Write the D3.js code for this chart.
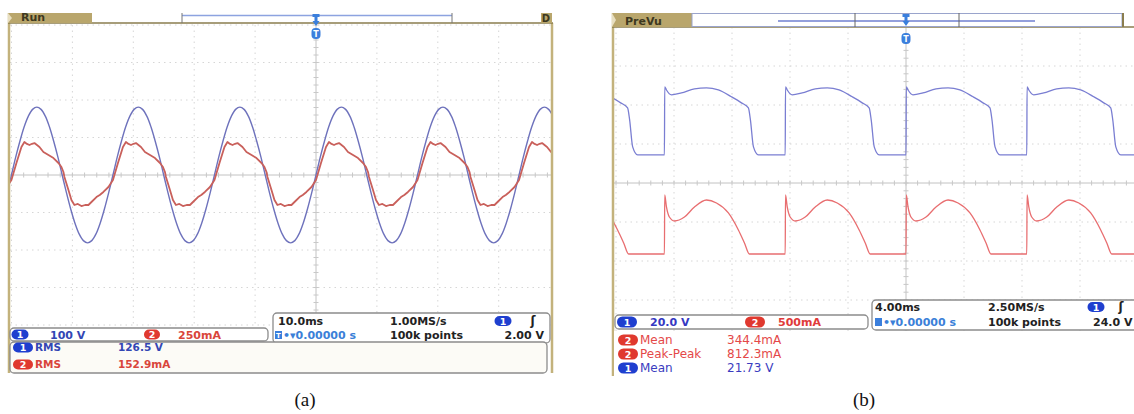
<!DOCTYPE html>
<html>
<head>
<meta charset="utf-8">
<script src="https://cdn.jsdelivr.net/npm/d3@7"></script>
<style>
  body { margin: 0; background: #fff; }
  svg { display: block; }
</style>
</head>
<body>
<script>
// ---- panel (a): 10 ms/div, ch1 100 V/div, ch2 250 mA/div, one mains cycle
const periodA = 16.67;               // ms
const ch1A_t = [0, 0.69, 1.39, 2.08, 2.78, 3.47, 4.17, 4.86, 5.56, 6.25, 6.94, 7.64,
                8.33, 9.03, 9.72, 10.42, 11.11, 11.81, 12.5, 13.19, 13.89, 14.58, 15.28, 15.97];
const ch1A_v = [0, 47, 90, 128, 157, 175, 181, 175, 157, 128, 90, 47,
                0, -47, -90, -128, -157, -175, -181, -175, -157, -128, -90, -47];   // V
const ch2A_t = [0, 0.82, 1.64, 2.13, 2.55, 2.96, 3.38, 3.78, 4.6, 5.25, 6.08, 6.9, 7.72,
                8.21, 8.54, 8.7, 9.36, 9.85, 10.34, 10.9, 11.49, 12.1, 12.64, 13.14, 13.96, 14.5, 15.1, 15.93];
const ch2A_v = [-33, 80, 187, 220, 207, 200, 208, 213, 187, 153, 133, 113, 80,
                53, 20, -13, -100, -167, -200, -193, -207, -200, -200, -180, -147, -133, -113, -80];  // mA

// ---- panel (b): 4 ms/div, ch1 20 V/div, ch2 500 mA/div, one rectified cycle
const periodB = 8.33;
const ch1B_t = [0, 0.02, 0.14, 0.48, 1.17, 2.07, 2.9, 3.72, 4.62, 5.31, 5.79, 5.93, 6.14, 6.48, 8.3];
const ch1B_v = [0, 34.9, 33.3, 30.8, 31.8, 33.9, 34.4, 33.3, 29.8, 26.7, 24.1, 18, 4.1, 0, 0];   // V
const ch2B_t = [0, 0.02, 0.14, 0.34, 0.69, 1.38, 2.07, 2.9, 3.59, 4.41, 5.1, 5.52, 5.86, 8.3];
const ch2B_v = [0, 756, 603, 474, 423, 474, 603, 692, 654, 526, 308, 141, 0, 0];              // mA

// ---- readouts
const chanA = [["1", "100 V"], ["2", "250mA"]];
const timeA = ["10.0ms", "1.00MS/s", "0.00000 s", "100k points", "2.00 V"];
const measA = [["1", "RMS", "126.5 V"], ["2", "RMS", "152.9mA"]];
const chanB = [["1", "20.0 V"], ["2", "500mA"]];
const timeB = ["4.00ms", "2.50MS/s", "0.00000 s", "100k points", "24.0 V"];
const measB = [["2", "Mean", "344.4mA"], ["2", "Peak-Peak", "812.3mA"], ["1", "Mean", "21.73 V"]];
const captions = ["(a)", "(b)"];

const font = "DejaVu Sans, Verdana, sans-serif";
const tan = "#c3b27c";
const badgeColor = { "1": "#1f3fcf", "2": "#e0392f" };
const textColor = { "1": "#3346b4", "2": "#d9453b" };

let svg = d3.select("body").append("svg").attr("width", 1134).attr("height", 414);

function txt(g, x, y, s, color, size, weight, anchor) {
  return g.append("text").attr("x", x).attr("y", y)
    .attr("font-family", font).attr("font-size", size)
    .attr("font-weight", weight || "bold")
    .attr("text-anchor", anchor || "start")
    .attr("fill", color).text(s);
}

function badge(g, cx, cy, n, w, h) {
  g.append("rect").attr("x", cx - w / 2).attr("y", cy - h / 2)
    .attr("width", w).attr("height", h).attr("rx", h / 2)
    .attr("fill", badgeColor[n]);
  txt(g, cx, cy + 3.5, n, "#fff", 9.5, "bold", "middle");
}

function box(g, x, y, w, h, fill) {
  g.append("rect").attr("x", x).attr("y", y).attr("width", w).attr("height", h)
    .attr("rx", 4).attr("fill", fill || "#fff")
    .attr("stroke", "#8c8c8c").attr("stroke-width", 1.3);
}

function tile(ts, vs, period, k0, k1) {
  let pts = [];
  for (let k = k0; k <= k1; k++) {
    ts.forEach((t, i) => pts.push({ t: t + k * period, v: vs[i] }));
  }
  return pts;
}

function trigMarker(g, x, yTop, yLow) {
  let c = "#3b7fdc";
  g.append("path")
    .attr("d", `M${x - 3.5},${yTop} h7 v3 h-2 v4 h2 l-3.5,5 l-3.5,-5 h2 v-4 h-2 z`)
    .attr("fill", c);
  g.append("rect").attr("x", x - 4.5).attr("y", yLow).attr("width", 9).attr("height", 11)
    .attr("rx", 4).attr("fill", c);
  txt(g, x, yLow + 8.5, "T", "#fff", 8, "bold", "middle");
}

function drawScreen(c) {
  let g = svg.append("g");
  let x = d3.scaleLinear().domain([-5 * c.tDiv, 5 * c.tDiv])
    .range([c.cx - 5 * c.divX, c.cx + 5 * c.divX]);
  let y = d3.scaleLinear().domain([-4, 4])
    .range([c.cy + 4 * c.divY, c.cy - 4 * c.divY]);

  let clipId = "clip" + c.id;
  svg.append("clipPath").attr("id", clipId).append("rect")
    .attr("x", c.left).attr("y", c.gridTop)
    .attr("width", c.right - c.left).attr("height", c.gridBot - c.gridTop);
  let plot = g.append("g").attr("clip-path", `url(#${clipId})`);

  // graticule
  let vt = d3.range(-5, 6).map(k => k * c.tDiv).filter(t => t !== 0);
  plot.selectAll(".vg").data(vt).enter().append("line")
    .attr("x1", d => x(d)).attr("x2", d => x(d))
    .attr("y1", y(4)).attr("y2", y(-4))
    .attr("stroke", "#d6d6d6").attr("stroke-dasharray", "1.5,4");
  let ht = d3.range(-4, 5).filter(d => d !== 0);
  plot.selectAll(".hg").data(ht).enter().append("line")
    .attr("x1", c.left).attr("x2", c.right)
    .attr("y1", d => y(d)).attr("y2", d => y(d))
    .attr("stroke", "#d6d6d6").attr("stroke-dasharray", "1.5,4");
  plot.append("line").attr("x1", x(0)).attr("x2", x(0)).attr("y1", y(4)).attr("y2", y(-4))
    .attr("stroke", "#c2c2c2");
  plot.append("line").attr("x1", c.left).attr("x2", c.right).attr("y1", y(0)).attr("y2", y(0))
    .attr("stroke", "#c2c2c2");
  let minorT = d3.range(-25, 26).map(k => k * c.tDiv / 5);
  plot.selectAll(".mt").data(minorT).enter().append("line")
    .attr("x1", d => x(d)).attr("x2", d => x(d))
    .attr("y1", y(0) - 2.5).attr("y2", y(0) + 2.5).attr("stroke", "#c8c8c8");
  let minorV = d3.range(-20, 21).map(k => k / 5);
  plot.selectAll(".mv").data(minorV).enter().append("line")
    .attr("x1", x(0) - 2.5).attr("x2", x(0) + 2.5)
    .attr("y1", d => y(d)).attr("y2", d => y(d)).attr("stroke", "#c8c8c8");

  // traces
  c.traces.forEach(tr => {
    let line = d3.line()
      .x(d => x(d.t))
      .y(d => y(d.v / tr.perDiv + tr.offset))
      .curve(tr.curve);
    plot.append("path")
      .attr("d", line(tile(tr.t, tr.v, c.period, -4, 4)))
      .attr("fill", "none").attr("stroke", tr.color)
      .attr("stroke-width", tr.width).attr("stroke-linejoin", "round");
  });

  // frame
  g.append("line").attr("x1", c.left - 1).attr("x2", c.left - 1)
    .attr("y1", c.top).attr("y2", c.frameBot).attr("stroke", tan).attr("stroke-width", 2.5);
  if (c.rightFrame) {
    g.append("line").attr("x1", c.right + 1).attr("x2", c.right + 1)
      .attr("y1", c.bar).attr("y2", c.frameBot).attr("stroke", tan).attr("stroke-width", 2.5);
  }
  g.append("line").attr("x1", c.left - 2).attr("x2", c.right + 2)
    .attr("y1", c.bar).attr("y2", c.bar).attr("stroke", "#8a7d4e").attr("stroke-width", 1.5);

  // status tag and record bar
  g.append("rect").attr("x", c.left - 2).attr("y", c.top).attr("width", c.tagW)
    .attr("height", c.bar - c.top).attr("fill", "#b9a66c");
  g.append("path").attr("d", `M${c.left - 2},${c.top} l4,${(c.bar - c.top) / 2} l-4,${(c.bar - c.top) / 2}z`)
    .attr("fill", "#e8dfc0");
  txt(g, c.left + 11, c.bar - 2, c.tag, "#3d381f", 11, "bold");
  c.barBox(g);
  trigMarker(g, x(0), c.top + 1, c.markLow);

  return { g: g, x: x, y: y };
}

// ================= panel (a)
let A = drawScreen({
  id: "a", left: 10, right: 551, top: 13, bar: 23, gridTop: 24, gridBot: 326,
  frameBot: 373, cx: 316, cy: 175, divX: 60.9, divY: 37.5, tDiv: 10,
  period: periodA, tag: "Run", tagW: 84, markLow: 28, rightFrame: true,
  traces: [
    { t: ch1A_t, v: ch1A_v, perDiv: 100, offset: 0, color: "#6e72bc", width: 1.4, curve: d3.curveCatmullRom },
    { t: ch2A_t, v: ch2A_v, perDiv: 250, offset: 0, color: "#c9605b", width: 1.8, curve: d3.curveLinear }
  ],
  barBox: g => {
    g.append("line").attr("x1", 182).attr("x2", 452).attr("y1", 15.5).attr("y2", 15.5)
      .attr("stroke", "#8da3e0").attr("stroke-width", 1.6);
    [182, 452].forEach(v => g.append("line").attr("x1", v).attr("x2", v)
      .attr("y1", 13).attr("y2", 23).attr("stroke", "#777"));
    g.append("rect").attr("x", 541).attr("y", 13).attr("width", 11).attr("height", 10)
      .attr("fill", "#b9a66c");
    txt(g, 546, 22, "D", "#3d381f", 10, "bold", "middle");
  }
});

box(A.g, 10, 328, 258, 13);
badge(A.g, 20, 334.5, chanA[0][0], 17, 10);
txt(A.g, 50, 338.5, chanA[0][1], textColor["1"], 11);
badge(A.g, 152, 334.5, chanA[1][0], 16, 10);
txt(A.g, 178, 338.5, chanA[1][1], textColor["2"], 11);

box(A.g, 273, 313, 277, 30);
txt(A.g, 278, 325, timeA[0], "#222", 11);
txt(A.g, 390, 325, timeA[1], "#222", 11);
badge(A.g, 503, 321, "1", 17, 10);
txt(A.g, 533, 325, "ʃ", "#222", 12, "bold", "middle");
A.g.append("rect").attr("x", 275).attr("y", 331).attr("width", 7).attr("height", 8).attr("fill", "#3b7fdc");
txt(A.g, 278.5, 338, "T", "#fff", 7, "bold", "middle");
txt(A.g, 283, 339, "•▾" + timeA[2], "#3b80d8", 11);
txt(A.g, 390, 339, timeA[3], "#222", 11);
txt(A.g, 544, 339, timeA[4], "#222", 11, "bold", "end");

box(A.g, 10, 342, 537, 31, "#fcfbf6");
measA.forEach((m, i) => {
  let yy = 351 + i * 17;
  badge(A.g, 23, yy - 3.5, m[0], 20, 10);
  txt(A.g, 35, yy, m[1], textColor[m[0]], 10.5, "bold");
  txt(A.g, 118, yy, m[2], textColor[m[0]], 10.5, "bold");
});

// ================= panel (b)
let B = drawScreen({
  id: "b", left: 614, right: 1136, top: 13, bar: 27, gridTop: 28, gridBot: 340,
  frameBot: 376, cx: 906, cy: 183, divX: 58, divY: 39, tDiv: 4,
  period: periodB, tag: "PreVu", tagW: 80, markLow: 33, rightFrame: false,
  traces: [
    { t: ch1B_t, v: ch1B_v, perDiv: 20, offset: 0.72, color: "#7a7ed2", width: 1.3, curve: d3.curveMonotoneX },
    { t: ch2B_t, v: ch2B_v, perDiv: 500, offset: -1.82, color: "#e86e70", width: 1.3, curve: d3.curveMonotoneX }
  ],
  barBox: g => {
    g.append("rect").attr("x", 692).attr("y", 13.5).attr("width", 430).attr("height", 13)
      .attr("fill", "#fff").attr("stroke", "#9aa4cc");
    g.append("line").attr("x1", 778).attr("x2", 1035).attr("y1", 21).attr("y2", 21)
      .attr("stroke", "#6f7fd0").attr("stroke-width", 1.4);
    [855, 959].forEach(v => g.append("line").attr("x1", v).attr("x2", v)
      .attr("y1", 13).attr("y2", 27).attr("stroke", "#666"));
    g.append("line").attr("x1", 1123).attr("x2", 1123).attr("y1", 13).attr("y2", 27)
      .attr("stroke", "#8a7d4e").attr("stroke-width", 2);
  }
});

box(B.g, 615, 315, 253, 14);
badge(B.g, 627, 322, chanB[0][0], 20, 11);
txt(B.g, 650, 326, chanB[0][1], "#3538c2", 11);
badge(B.g, 755, 322, chanB[1][0], 20, 11);
txt(B.g, 778, 326, chanB[1][1], "#e03a3a", 11);

box(B.g, 872, 300, 275, 30);
txt(B.g, 875, 311, timeB[0], "#222", 11);
txt(B.g, 988, 311, timeB[1], "#222", 11);
badge(B.g, 1096, 307, "1", 17, 10);
txt(B.g, 1121, 311, "ʃ", "#222", 12, "bold", "middle");
B.g.append("rect").attr("x", 875).attr("y", 318).attr("width", 7).attr("height", 8).attr("fill", "#3b7fdc");
txt(B.g, 883, 326, "•▾" + timeB[2], "#3b80d8", 11);
txt(B.g, 988, 326, timeB[3], "#222", 11);
txt(B.g, 1093, 326, timeB[4], "#222", 11);

B.g.append("rect").attr("x", 614).attr("y", 331).attr("width", 520).attr("height", 45).attr("fill", "#fff");
measB.forEach((m, i) => {
  let yy = 344 + i * 14;
  badge(B.g, 628, yy - 4, m[0], 20, 11);
  txt(B.g, 640, yy, m[1], m[0] === "1" ? "#3a3cc0" : "#e44848", 12, "normal");
  txt(B.g, 727, yy, m[2], m[0] === "1" ? "#3a3cc0" : "#e44848", 12, "normal");
});

// captions
svg.selectAll(".cap").data(captions).enter().append("text")
  .attr("x", (d, i) => i === 0 ? 305 : 864)
  .attr("y", 406)
  .attr("text-anchor", "middle")
  .attr("font-family", "Liberation Serif, Times New Roman, serif")
  .attr("font-size", 19)
  .attr("fill", "#111")
  .text(d => d);
</script>
</body>
</html>
